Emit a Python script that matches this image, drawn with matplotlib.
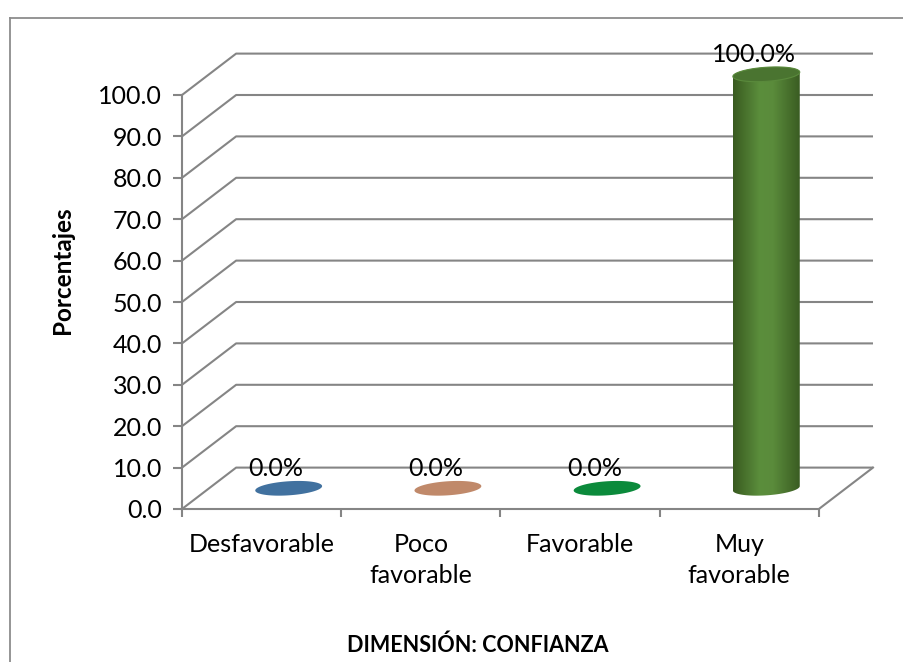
import numpy as np
import matplotlib
matplotlib.use("Agg")
import matplotlib.pyplot as plt
from matplotlib.patches import Polygon
from matplotlib.lines import Line2D
from matplotlib.colors import LinearSegmentedColormap

plt.rcParams['font.family'] = ['Lato', 'DejaVu Sans']

# datos
categorias = ['Desfavorable', 'Poco\nfavorable', 'Favorable', 'Muy\nfavorable']
porcentajes = [0.0, 0.0, 0.0, 100.0]
colores = ['#41719f', '#c0896a', '#0b8a3b', '#4f7f2f']
marcas_y = np.arange(0, 101, 10)

# profundidad del efecto 3D (en unidades de categoria / porcentaje)
DX = 0.34
DY = 10.0
RX = 0.21     # semi-ancho del cilindro
RY = 1.7      # semi-alto de la elipse
K = 2.5       # inclinacion de la elipse
GRIS = '#858585'
FS = 18

fig = plt.figure(figsize=(9.04, 6.62), dpi=100)
W, H = 904, 662

# marco del grafico
fig.add_artist(Line2D([9.5 / W, 9.5 / W], [0, 1 - 17.5 / H], transform=fig.transFigure,
                      color='#8c8c8c', lw=1.3))
fig.add_artist(Line2D([9.5 / W, 1], [1 - 17.5 / H, 1 - 17.5 / H], transform=fig.transFigure,
                      color='#8c8c8c', lw=1.3))

ax = fig.add_axes([182 / W, 1 - 509 / H, 691 / W, 455.4 / H])
ax.set_xlim(-0.5, 3.5 + DX)
ax.set_ylim(0, 100 + DY)

# lineas de division: pared lateral + pared del fondo
for v in marcas_y:
    ax.plot([-0.5, -0.5 + DX, 3.5 + DX], [v, v + DY, v + DY],
            color=GRIS, lw=1.5, clip_on=False, zorder=1, solid_capstyle='butt')
# piso
ax.plot([3.5, 3.5 + DX], [0, DY], color=GRIS, lw=1.5, clip_on=False, zorder=1)


def elipse(cx, cy, t):
    return np.column_stack([cx + RX * np.cos(t),
                            cy + RY * np.sin(t) + K * RX * np.cos(t)])


cmap = LinearSegmentedColormap.from_list(
    'cil', [(0, '#395a20'), (0.4, '#5b8e3c'), (0.6, '#5a8b3b'), (1, '#3a5c22')])

for i, (v, c) in enumerate(zip(porcentajes, colores)):
    cx = i + DX / 2
    base = DY / 2
    tope = base + v
    if v == 0:
        ax.add_patch(Polygon(elipse(cx, base, np.linspace(0, 2 * np.pi, 100)),
                             closed=True, facecolor=c, edgecolor='none', zorder=3))
    else:
        abajo = elipse(cx, base, np.linspace(np.pi, 2 * np.pi, 60))
        arriba = elipse(cx, tope, np.linspace(0, np.pi, 60))
        cuerpo = Polygon(np.vstack([abajo, arriba]), closed=True,
                         facecolor='none', edgecolor='none', zorder=3)
        ax.add_patch(cuerpo)
        grad = np.linspace(0, 1, 256).reshape(1, -1)
        im = ax.imshow(grad, cmap=cmap, aspect='auto', zorder=3,
                       extent=[cx - RX, cx + RX, base - 2 * RY - K * RX, tope + 2 * RY + K * RX])
        im.set_clip_path(cuerpo)
        ax.add_patch(Polygon(elipse(cx, tope, np.linspace(0, 2 * np.pi, 100)),
                             closed=True, facecolor='#4a7430', edgecolor='#5a8a3c',
                             lw=0.8, zorder=4))
    ax.annotate(f'{v:.1f}%', xy=(cx, tope), xytext=(-9, 14), textcoords='offset points',
                ha='center', va='center', fontsize=FS, color='black', zorder=5)

ax.set_xlim(-0.5, 3.5 + DX)
ax.set_ylim(0, 100 + DY)

# ejes
for lado in ['top', 'right']:
    ax.spines[lado].set_visible(False)
ax.spines['left'].set_bounds(0, 100)
ax.spines['bottom'].set_bounds(-0.5, 3.5)
for lado in ['left', 'bottom']:
    ax.spines[lado].set_color(GRIS)
    ax.spines[lado].set_linewidth(1.5)

ax.set_yticks(marcas_y)
ax.set_yticklabels([f'{v:.1f}' for v in marcas_y])
ax.tick_params(axis='y', length=6.5, width=1.5, color=GRIS, pad=8, labelsize=FS)

ax.set_xticks(np.arange(-0.5, 4, 1.0))
ax.set_xticklabels([])
ax.set_xticks(range(len(categorias)), minor=True)
ax.set_xticklabels(categorias, minor=True, fontsize=FS, linespacing=1.45, va='top')
ax.tick_params(axis='x', which='major', length=6, width=1.5, color=GRIS)
ax.tick_params(axis='x', which='minor', length=0, pad=17)

fig.text(63 / W, 1 - 270 / H, 'Porcentajes', rotation=90, ha='center', va='center',
         fontsize=17.5, fontweight='bold')
fig.text(478 / W, 1 - 645 / H, 'DIMENSIÓN: CONFIANZA', ha='center', va='center',
         fontsize=15.5, fontweight='bold')

fig.savefig('out.png', dpi=100)
